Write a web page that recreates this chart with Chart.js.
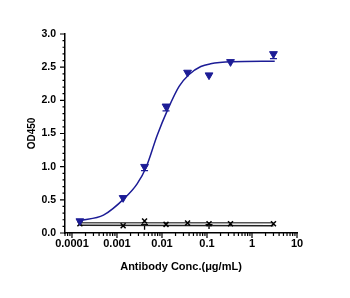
<!DOCTYPE html>
<html>
<head>
<meta charset="utf-8">
<script src="https://cdn.jsdelivr.net/npm/chart.js@4.4.1/dist/chart.umd.min.js"></script>
<style>
html, body { margin: 0; padding: 0; background: #fff; }
#wrap { width: 350px; height: 298px; }
</style>
</head>
<body>
<div id="wrap"><canvas id="chart"></canvas></div>
<script>
// antibody concentrations (ug/mL), 3-fold dilutions
const conc = [0.00015, 0.00137, 0.0041, 0.0123, 0.037, 0.111, 0.333, 3];
const odSample = [0.18, 0.53, 1.00, 1.91, 2.42, 2.38, 2.58, 2.70];
const errSample = [0, 0, 0.06, 0.07, 0, 0, 0, 0.07];
const odControl = [0.14, 0.11, 0.18, 0.13, 0.15, 0.14, 0.14, 0.14];
// control bars hang down from the lower fit line
const ctrlBarTop = [null, null, 0.125, null, null, 0.125, null, null];
const ctrlBarBottom = [null, null, 0.05, null, null, 0.06, null, null];

// fitted curve
const fitX = [0.00015, 0.0005, 0.0015, 0.0028, 0.0045, 0.0078, 0.0134, 0.024, 0.04, 0.073, 0.12, 0.36, 3.2];
const fitY = [0.19, 0.27, 0.53, 0.74, 1.00, 1.47, 1.86, 2.21, 2.39, 2.51, 2.55, 2.58, 2.59];
const ctrlFitX = [0.00015, 3];
const ctrlFitUpper = [0.155, 0.155];
const ctrlFitLower = [0.115, 0.11];

const xTickLabels = ['0.0001', '0.001', '0.01', '0.1', '1', '10'];
const yTickLabels = ['0.0', '0.5', '1.0', '1.5', '2.0', '2.5', '3.0'];

const BLUE = '#1c1c96';
const FONT = '"Liberation Sans", Arial, sans-serif';

function pts(xs, ys) {
    return xs.map((x, i) => ({ x: x, y: ys[i] }));
}
function isDecade(v) {
    const lg = Math.log10(v);
    return Math.abs(lg - Math.round(lg)) < 1e-9;
}
function isHalf(v) {
    return Math.round(v * 10) % 5 === 0;
}

// small outside tick marks, long for labelled ticks
const axisTicks = {
    id: 'axisTicks',
    afterDraw(chart) {
        const ctx = chart.ctx;
        const xs = chart.scales.x, ys = chart.scales.y;
        ctx.save();
        ctx.strokeStyle = '#000';
        ctx.lineWidth = 1.2;
        ctx.beginPath();
        xs.ticks.forEach(t => {
            const px = xs.getPixelForValue(t.value);
            ctx.moveTo(px, xs.top);
            ctx.lineTo(px, xs.top + (isDecade(t.value) ? 5 : 3));
        });
        ys.ticks.forEach(t => {
            const py = ys.getPixelForValue(t.value);
            ctx.moveTo(ys.right, py);
            ctx.lineTo(ys.right - (isHalf(t.value) ? 5 : 2.5), py);
        });
        ctx.stroke();
        ctx.restore();
    }
};

// error bars (drawn below the point only)
const errorBars = {
    id: 'errorBars',
    beforeDatasetsDraw(chart) {
        const ctx = chart.ctx;
        const xs = chart.scales.x, ys = chart.scales.y;
        ctx.save();
        ctx.lineWidth = 1.3;
        ctx.strokeStyle = BLUE;
        ctx.beginPath();
        odSample.forEach((v, i) => {
            if (!errSample[i]) return;
            const px = xs.getPixelForValue(conc[i]);
            const top = ys.getPixelForValue(v);
            const lo = ys.getPixelForValue(v - errSample[i]);
            ctx.moveTo(px, top); ctx.lineTo(px, lo);
            ctx.moveTo(px - 3.5, lo); ctx.lineTo(px + 3.5, lo);
        });
        ctx.stroke();
        ctx.strokeStyle = '#000';
        ctx.beginPath();
        ctrlBarTop.forEach((v, i) => {
            if (v === null) return;
            const px = xs.getPixelForValue(conc[i]);
            const top = ys.getPixelForValue(v);
            const lo = ys.getPixelForValue(ctrlBarBottom[i]);
            ctx.moveTo(px, top); ctx.lineTo(px, lo);
            ctx.moveTo(px - 3.5, top); ctx.lineTo(px + 3.5, top);
        });
        ctx.stroke();
        ctx.restore();
    }
};

new Chart(document.getElementById('chart'), {
    type: 'scatter',
    data: {
        datasets: [
            {
                data: pts(conc, odSample),
                pointStyle: 'triangle',
                rotation: 180,
                pointRadius: 4.5,
                backgroundColor: BLUE,
                borderColor: BLUE,
                borderWidth: 1
            },
            {
                data: pts(fitX, fitY),
                showLine: true,
                cubicInterpolationMode: 'monotone',
                pointRadius: 0,
                borderColor: BLUE,
                borderWidth: 1.5
            },
            {
                data: pts(conc, odControl),
                pointStyle: 'crossRot',
                pointRadius: 3.5,
                borderColor: '#000',
                borderWidth: 1.5
            },
            {
                data: pts(ctrlFitX, ctrlFitUpper),
                showLine: true,
                pointRadius: 0,
                borderColor: '#555',
                borderWidth: 1.5
            },
            {
                data: pts(ctrlFitX, ctrlFitLower),
                showLine: true,
                pointRadius: 0,
                borderColor: '#222',
                borderWidth: 1.5
            }
        ]
    },
    options: {
        responsive: true,
        maintainAspectRatio: false,
        animation: false,
        layout: { padding: { top: 34, right: 53, bottom: 20, left: 0 } },
        plugins: {
            legend: { display: false },
            tooltip: { enabled: false }
        },
        scales: {
            x: {
                type: 'logarithmic',
                min: 0.00007,
                max: 10,
                afterBuildTicks: (scale) => {
                    const t = [];
                    for (let e = -5; e <= 1; e++) {
                        for (let k = 1; k <= 9; k++) {
                            const v = Number((k * Math.pow(10, e)).toPrecision(2));
                            if (v >= scale.min && v <= scale.max) t.push({ value: v });
                        }
                    }
                    scale.ticks = t;
                },
                afterFit: (scale) => { scale.height = 45; },
                grid: { display: false, drawTicks: false },
                border: { display: true, color: '#000', width: 1.5 },
                ticks: {
                    autoSkip: false,
                    maxRotation: 0,
                    padding: 4,
                    color: '#000',
                    font: { family: FONT, size: 11, weight: 'bold' },
                    callback: (v) => isDecade(v) ? xTickLabels[Math.round(Math.log10(v)) + 4] : ''
                },
                title: {
                    display: true,
                    text: 'Antibody Conc.(μg/mL)',
                    color: '#000',
                    font: { family: FONT, size: 11, weight: 'bold' },
                    padding: { top: 0, bottom: 4 }
                }
            },
            y: {
                min: 0,
                max: 3,
                afterFit: (scale) => { scale.width = 65; },
                grid: { display: false, drawTicks: false },
                border: { display: true, color: '#000', width: 1.5 },
                ticks: {
                    stepSize: 0.1,
                    autoSkip: false,
                    padding: 9,
                    color: '#000',
                    font: { family: FONT, size: 10.5, weight: 'bold' },
                    callback: (v) => isHalf(v) ? yTickLabels[Math.round(v * 2)] : ''
                },
                title: {
                    display: true,
                    text: 'OD450',
                    color: '#000',
                    font: { family: FONT, size: 10, weight: 'bold' },
                    padding: { top: 26, bottom: 0 }
                }
            }
        }
    },
    plugins: [errorBars, axisTicks]
});
</script>
</body>
</html>
